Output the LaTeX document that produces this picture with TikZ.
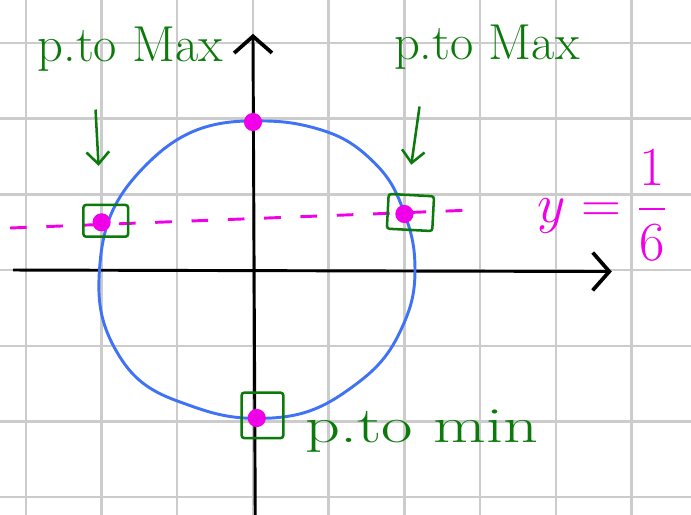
\documentclass[tikz,border=0pt]{standalone}
\usepackage{amsmath}
\usepackage{tikz}
\usetikzlibrary{arrows.meta}
\definecolor{PenBlue}{HTML}{3F72F5}
\definecolor{PenPink}{HTML}{F000E8}
\definecolor{PenGreen}{HTML}{0B7A0B}
\definecolor{GridGray}{HTML}{CCCCCC}
\begin{document}
\begin{tikzpicture}[x=1cm,y=1cm,
    gridline/.style={GridGray,line width=0.9pt},
    axisline/.style={line width=1.1pt,black,-{Straight Barb[length=2.2mm,width=5mm,line width=1.4pt]}},
    pt/.style={circle,fill=PenPink,inner sep=0pt,minimum size=2.4mm},
    markbox/.style={draw=PenGreen,line width=0.95pt,rounded corners=1pt,inner sep=0pt},
    ptr/.style={PenGreen,line width=0.95pt,-{Straight Barb[length=1.6mm,width=3mm,line width=0.95pt]}},
    lbl/.style={PenGreen,font=\fontsize{19}{21}\selectfont}]
  \useasboundingbox (-3.342,-3.236) rectangle (5.786,3.567);
  \fill[white] (-3.342,-3.236) rectangle (5.786,3.567);
  \draw[gridline] (-3.342,-3.236) grid (5.786,3.567);
  % axes
  \coordinate (xl) at (-3.17,0);
  \coordinate (xr) at (4.74,-0.02);
  \coordinate (yb) at (0.03,-3.24);
  \coordinate (yt) at (0.0,3.12);
  \draw[axisline] (xl) -- (xr);
  \draw[axisline] (yb) -- (yt);
  % level curve
  \draw[PenBlue,line width=1.1pt] (0,1.97)
    to[out=180,in=45] (-1.40,1.40) to[out=225,in=85] (-2.02,0.1)
    to[out=265,in=120] (-1.80,-1.08) to[out=300,in=160] (-1.0,-1.73)
    to[out=340,in=180] (0.05,-1.96) to[out=0,in=215] (1.22,-1.61)
    to[out=35,in=245] (1.95,-0.80) to[out=65,in=270] (2.14,0)
    to[out=90,in=290] (2.0,0.75) to[out=110,in=315] (1.61,1.41)
    to[out=135,in=345] (0.8,1.88) to[out=165,in=0] cycle;
  % line y = 1/6
  \draw[PenPink,line width=1.1pt,dash pattern=on 2.2mm off 2.6mm] (-3.21,0.555) -- (2.84,0.79);
  \node[PenPink,font=\fontsize{22}{24}\selectfont] (lineLbl) at (4.62,0.86) {$y=\dfrac{1}{6}$};
  % points
  \node[pt] (dotT) at (0,1.955) {};
  \node[pt] (dotL) at (-2.0,0.63) {};
  \node[pt] (dotR) at (2.0,0.74) {};
  \node[pt] (dotB) at (0.05,-1.955) {};
  \node[markbox,minimum width=5.9mm,minimum height=4.2mm] (boxL) at (-1.945,0.65) {};
  \node[markbox,minimum width=6.0mm,minimum height=4.6mm,rotate=-3] (boxR) at (2.08,0.76) {};
  \node[markbox,minimum width=5.5mm,minimum height=6.0mm] (boxB) at (0.125,-1.92) {};
  % labels
  \node[lbl] (lblL) at (-1.62,2.92) {p.to Max};
  \node[lbl] (lblR) at (3.09,2.95) {p.to Max};
  \node[lbl,xscale=1.35,transform shape] (lblB) at (2.23,-2.13) {p.to min};
  \coordinate (aL) at (-2.08,2.12);
  \coordinate (aR) at (2.2,2.16);
  \draw[ptr,shorten >=6.2mm] (aL) -- (dotL);
  \draw[ptr,shorten >=5.3mm] (aR) -- (dotR);
\end{tikzpicture}
\end{document}
